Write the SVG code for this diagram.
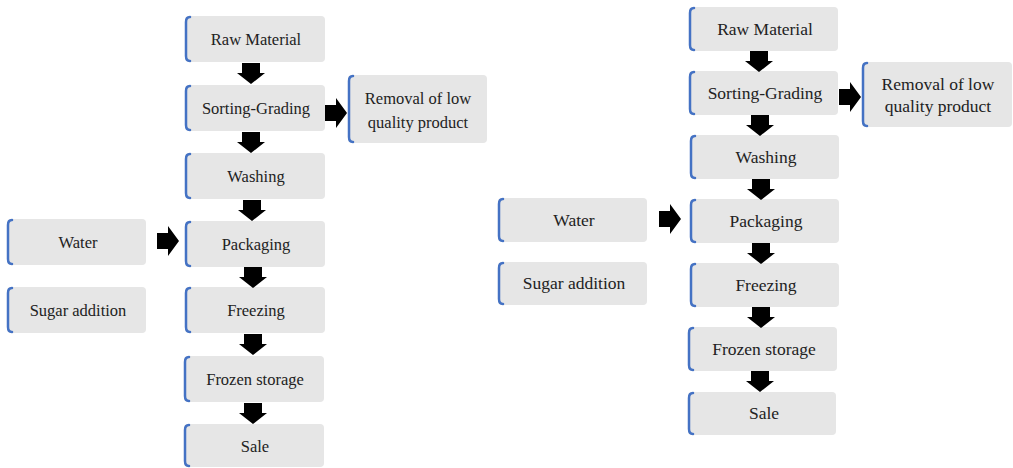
<svg xmlns="http://www.w3.org/2000/svg" width="1013" height="468" viewBox="0 0 1013 468">
<style>
.box{fill:#e6e6e6}
.br{fill:none;stroke:#4472c4;stroke-width:2.5;stroke-linecap:round}
.t{fill:#222;text-anchor:middle;dominant-baseline:central}
.l{font-size:16.5px}
.r{font-size:17.5px}
.arr{fill:#000}
</style>
<defs>
<path id="darr" d="M-9,0 H9 V10 H14 L0,21 L-14,10 H-9 Z"/>
<path id="rarr" d="M0,-8 H11 V-15 L22,0 L11,15 V8 H0 Z"/>
</defs>
<rect width="1013" height="468" fill="#fff"/>
<g font-family="Liberation Serif, Times New Roman, DejaVu Serif, serif">
<!-- Left diagram -->
<g id="L-raw"><rect class="box" x="185" y="16" width="140" height="46" rx="4"/><path class="br" d="M190,17 Q186,17 186,22 V56 Q186,61 190,61"/><text class="t l" x="256" y="39">Raw Material</text></g>
<g id="L-sort"><rect class="box" x="185" y="85" width="140" height="46" rx="4"/><path class="br" d="M190,86 Q186,86 186,91 V125 Q186,130 190,130"/><text class="t l" x="256" y="108">Sorting-Grading</text></g>
<g id="L-removal"><rect class="box" x="348" y="75" width="139" height="68" rx="4"/><path class="br" d="M353,76 Q349,76 349,81 V137 Q349,142 353,142"/><text class="t l" x="418" y="98">Removal of low</text><text class="t l" x="418" y="122">quality product</text></g>
<g id="L-wash"><rect class="box" x="185" y="153" width="140" height="46" rx="4"/><path class="br" d="M190,154 Q186,154 186,159 V193 Q186,198 190,198"/><text class="t l" x="256" y="176">Washing</text></g>
<g id="L-water"><rect class="box" x="7" y="219" width="139" height="46" rx="4"/><path class="br" d="M12,220 Q8,220 8,225 V259 Q8,264 12,264"/><text class="t l" x="78" y="242">Water</text></g>
<g id="L-pack"><rect class="box" x="185" y="221" width="140" height="46" rx="4"/><path class="br" d="M190,222 Q186,222 186,227 V261 Q186,266 190,266"/><text class="t l" x="256" y="244">Packaging</text></g>
<g id="L-sugar"><rect class="box" x="7" y="287" width="139" height="46" rx="4"/><path class="br" d="M12,288 Q8,288 8,293 V327 Q8,332 12,332"/><text class="t l" x="78" y="310">Sugar addition</text></g>
<g id="L-freeze"><rect class="box" x="185" y="287" width="140" height="46" rx="4"/><path class="br" d="M190,288 Q186,288 186,293 V327 Q186,332 190,332"/><text class="t l" x="256" y="310">Freezing</text></g>
<g id="L-frozen"><rect class="box" x="184" y="356" width="140" height="46" rx="4"/><path class="br" d="M189,357 Q185,357 185,362 V396 Q185,401 189,401"/><text class="t l" x="255" y="379">Frozen storage</text></g>
<g id="L-sale"><rect class="box" x="184" y="424" width="140" height="43" rx="4"/><path class="br" d="M189,425 Q185,425 185,430 V461 Q185,466 189,466"/><text class="t l" x="255" y="446">Sale</text></g>

<!-- Right diagram -->
<g id="R-raw"><rect class="box" x="689" y="7" width="149" height="44" rx="4"/><path class="br" d="M694,8 Q690,8 690,13 V45 Q690,50 694,50"/><text class="t r" x="765" y="29">Raw Material</text></g>
<g id="R-sort"><rect class="box" x="689" y="71" width="149" height="44" rx="4"/><path class="br" d="M694,72 Q690,72 690,77 V109 Q690,114 694,114"/><text class="t r" x="765" y="93">Sorting-Grading</text></g>
<g id="R-removal"><rect class="box" x="862" y="62" width="150" height="65" rx="4"/><path class="br" d="M867,63 Q863,63 863,68 V121 Q863,126 867,126"/><text class="t r" x="938" y="84">Removal of low</text><text class="t r" x="938" y="106">quality product</text></g>
<g id="R-wash"><rect class="box" x="690" y="135" width="149" height="44" rx="4"/><path class="br" d="M695,136 Q691,136 691,141 V173 Q691,178 695,178"/><text class="t r" x="766" y="157">Washing</text></g>
<g id="R-water"><rect class="box" x="498" y="198" width="149" height="44" rx="4"/><path class="br" d="M503,199 Q499,199 499,204 V236 Q499,241 503,241"/><text class="t r" x="574" y="220">Water</text></g>
<g id="R-pack"><rect class="box" x="690" y="199" width="149" height="44" rx="4"/><path class="br" d="M695,200 Q691,200 691,205 V237 Q691,242 695,242"/><text class="t r" x="766" y="221">Packaging</text></g>
<g id="R-sugar"><rect class="box" x="498" y="262" width="149" height="43" rx="4"/><path class="br" d="M503,263 Q499,263 499,268 V299 Q499,304 503,304"/><text class="t r" x="574" y="283">Sugar addition</text></g>
<g id="R-freeze"><rect class="box" x="690" y="263" width="149" height="44" rx="4"/><path class="br" d="M695,264 Q691,264 691,269 V301 Q691,306 695,306"/><text class="t r" x="766" y="285">Freezing</text></g>
<g id="R-frozen"><rect class="box" x="688" y="327" width="149" height="44" rx="4"/><path class="br" d="M693,328 Q689,328 689,333 V365 Q689,370 693,370"/><text class="t r" x="764" y="349">Frozen storage</text></g>
<g id="R-sale"><rect class="box" x="688" y="392" width="148" height="43" rx="4"/><path class="br" d="M693,393 Q689,393 689,398 V429 Q689,434 693,434"/><text class="t r" x="764" y="413">Sale</text></g>
</g>
<g id="connectors" class="arr">
<use href="#darr" x="251" y="63"/>
<use href="#darr" x="251" y="132"/>
<use href="#darr" x="252" y="200"/>
<use href="#darr" x="253" y="267"/>
<use href="#darr" x="253" y="334"/>
<use href="#darr" x="253" y="403"/>
<use href="#rarr" x="325" y="113"/>
<use href="#rarr" x="157" y="241"/>
<use href="#darr" x="759" y="51"/>
<use href="#darr" x="760" y="115"/>
<use href="#darr" x="761" y="179"/>
<use href="#darr" x="761" y="243"/>
<use href="#darr" x="761" y="307"/>
<use href="#darr" x="760" y="371"/>
<use href="#rarr" x="839" y="97"/>
<use href="#rarr" x="659" y="219"/>
</g>
</svg>
